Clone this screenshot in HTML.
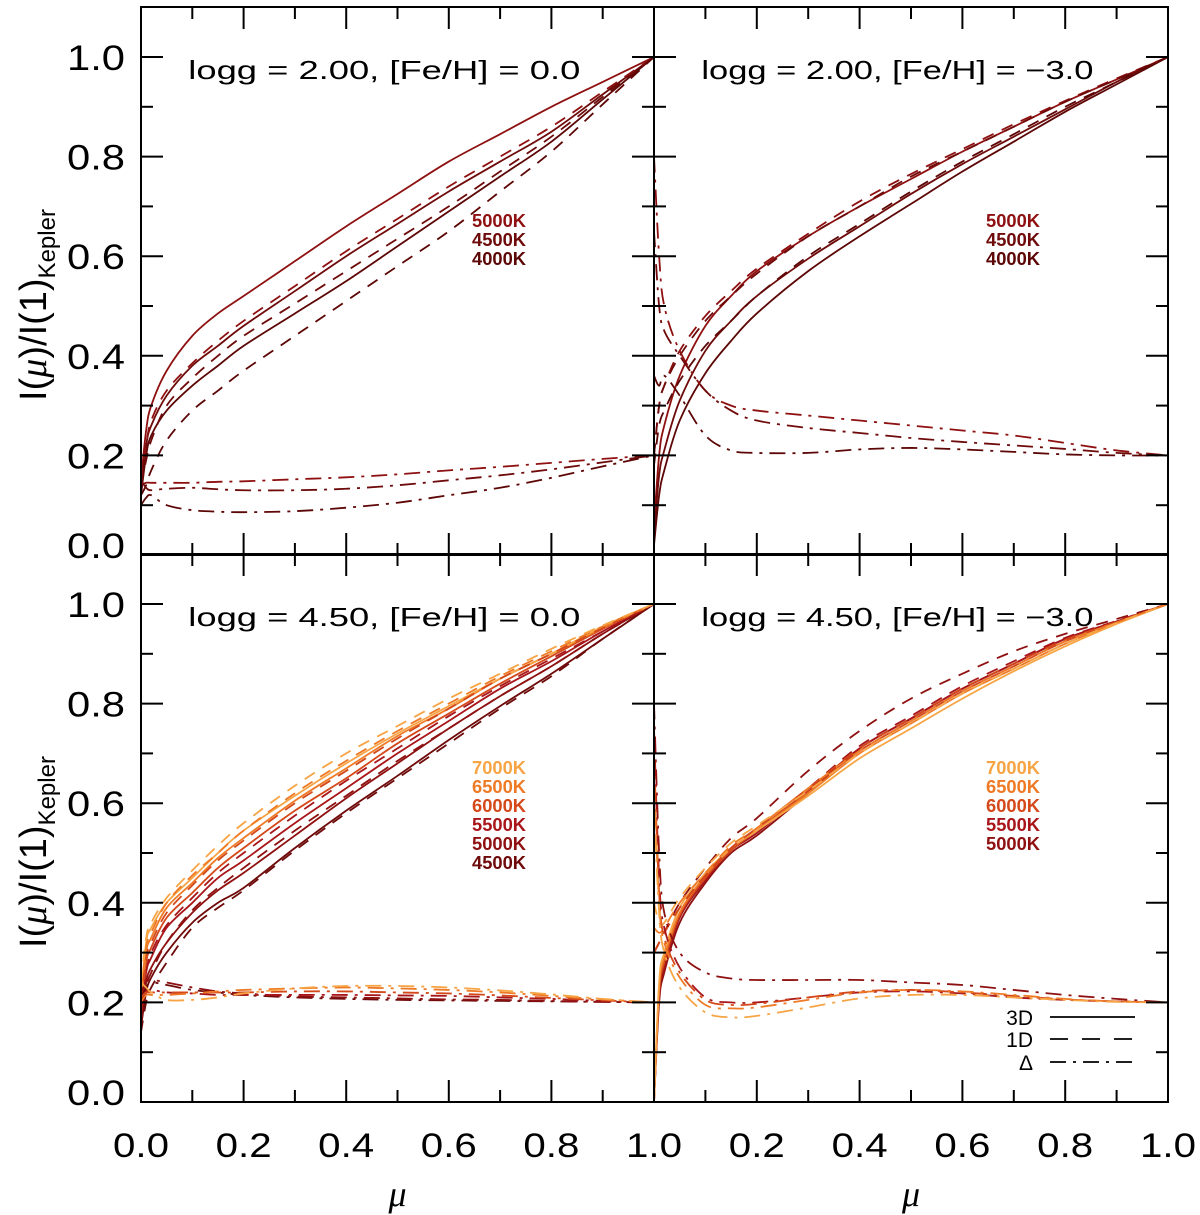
<!DOCTYPE html>
<html><head><meta charset="utf-8"><style>
html,body{margin:0;padding:0;background:#fff;}
svg{display:block;font-family:"Liberation Sans",sans-serif;}
</style></head><body>
<svg id="chart" width="1200" height="1215" viewBox="0 0 1200 1215" xmlns="http://www.w3.org/2000/svg">
<defs>
<clipPath id="c0"><rect x="141" y="7" width="513" height="548"/></clipPath>
<clipPath id="c1"><rect x="654" y="7" width="514" height="548"/></clipPath>
<clipPath id="c2"><rect x="141" y="555" width="513" height="547"/></clipPath>
<clipPath id="c3"><rect x="654" y="555" width="514" height="547"/></clipPath>
</defs>
<g id="curves"></g>
<g id="axes"></g>
<g id="labels"></g>
</svg>
<script>
const mu = [0,0.01,0.02,0.05,0.1,0.15,0.2,0.3,0.4,0.5,0.6,0.7,0.8,0.9,1.0];
const xTicks = ['0.0','0.2','0.4','0.6','0.8','1.0'];
const yTicks = ['0.0','0.2','0.4','0.6','0.8','1.0'];
const tempsTop = ['5000K','4500K','4000K'];
const tempsBL = ['7000K','6500K','6000K','5500K','5000K','4500K'];
const tempsBR = ['7000K','6500K','6000K','5500K','5000K'];
const titles = ['logg = 2.00, [Fe/H] = 0.0','logg = 2.00, [Fe/H] = \u22123.0','logg = 4.50, [Fe/H] = 0.0','logg = 4.50, [Fe/H] = \u22123.0'];
// panel 0 (top-left)
const tl3D = {'5000K':[0.15,0.25,0.30,0.37,0.44,0.485,0.52,0.59,0.66,0.725,0.79,0.845,0.90,0.95,1.0],
 '4500K':[0.13,0.22,0.26,0.32,0.38,0.42,0.46,0.53,0.60,0.665,0.73,0.79,0.85,0.925,1.0],
 '4000K':[0.12,0.20,0.24,0.29,0.34,0.38,0.42,0.485,0.55,0.62,0.69,0.76,0.83,0.915,1.0]};
const tl1D = {'5000K':[0.15,0.22,0.27,0.33,0.385,0.43,0.47,0.54,0.61,0.675,0.74,0.80,0.86,0.93,1.0],
 '4500K':[0.14,0.19,0.23,0.30,0.355,0.40,0.44,0.505,0.57,0.635,0.70,0.77,0.84,0.92,1.0],
 '4000K':[0.12,0.14,0.17,0.23,0.29,0.33,0.37,0.44,0.51,0.58,0.65,0.73,0.81,0.905,1.0]};
const tlD = {'5000K':[0.14,0.145,0.145,0.145,0.145,0.147,0.148,0.152,0.156,0.162,0.17,0.177,0.185,0.193,0.2],
 '4500K':[0.15,0.135,0.13,0.133,0.135,0.132,0.13,0.13,0.133,0.14,0.15,0.16,0.172,0.186,0.2],
 '4000K':[0.10,0.115,0.12,0.10,0.09,0.087,0.086,0.088,0.095,0.105,0.12,0.135,0.155,0.178,0.2]};
// panel 1 (top-right)
const tr3D = {'5000K':[0.06,0.20,0.26,0.36,0.46,0.52,0.57,0.64,0.70,0.755,0.81,0.86,0.91,0.955,1.0],
 '4500K':[0.04,0.16,0.21,0.31,0.41,0.47,0.52,0.595,0.66,0.725,0.785,0.84,0.895,0.95,1.0],
 '4000K':[0.02,0.12,0.17,0.27,0.365,0.43,0.485,0.57,0.64,0.705,0.77,0.83,0.89,0.945,1.0]};
const tr1D = {'5000K':[0.2,0.3,0.34,0.41,0.48,0.53,0.575,0.645,0.71,0.765,0.815,0.865,0.912,0.957,1.0],
 '4500K':[0.2,0.3,0.34,0.40,0.47,0.52,0.565,0.64,0.70,0.76,0.81,0.86,0.91,0.955,1.0],
 '4000K':[0.18,0.26,0.29,0.35,0.42,0.47,0.52,0.60,0.665,0.73,0.79,0.845,0.90,0.95,1.0]};
const trD = {'5000K':[0.80,0.60,0.50,0.41,0.33,0.30,0.29,0.28,0.27,0.26,0.25,0.24,0.225,0.21,0.2],
 '4500K':[0.65,0.50,0.45,0.40,0.33,0.29,0.27,0.255,0.245,0.235,0.227,0.22,0.213,0.205,0.2],
 '4000K':[0.36,0.34,0.36,0.32,0.24,0.21,0.205,0.205,0.212,0.215,0.212,0.207,0.202,0.2,0.2]};
// panel 2 (bottom-left)
const bl3D = {'4500K':[0.15,0.22,0.25,0.30,0.36,0.40,0.43,0.51,0.585,0.655,0.727,0.795,0.86,0.93,1.0],
 '5000K':[0.16,0.24,0.27,0.32,0.38,0.425,0.46,0.535,0.61,0.68,0.75,0.815,0.875,0.94,1.0],
 '5500K':[0.17,0.26,0.29,0.35,0.40,0.45,0.485,0.56,0.63,0.70,0.765,0.83,0.885,0.945,1.0],
 '6000K':[0.18,0.28,0.31,0.37,0.42,0.47,0.51,0.585,0.65,0.72,0.78,0.84,0.895,0.95,1.0],
 '6500K':[0.19,0.30,0.33,0.39,0.44,0.49,0.53,0.605,0.67,0.735,0.79,0.85,0.90,0.952,1.0],
 '7000K':[0.20,0.32,0.35,0.40,0.45,0.50,0.545,0.615,0.68,0.74,0.795,0.85,0.90,0.955,1.0]};
const bl1D = {'4500K':[0.14,0.20,0.23,0.28,0.35,0.39,0.425,0.505,0.58,0.65,0.72,0.79,0.855,0.93,1.0],
 '5000K':[0.16,0.23,0.26,0.32,0.385,0.43,0.47,0.545,0.615,0.685,0.75,0.815,0.875,0.94,1.0],
 '5500K':[0.18,0.26,0.30,0.355,0.41,0.46,0.50,0.575,0.645,0.71,0.775,0.835,0.89,0.945,1.0],
 '6000K':[0.20,0.29,0.32,0.38,0.435,0.485,0.525,0.60,0.665,0.73,0.79,0.85,0.90,0.952,1.0],
 '6500K':[0.22,0.31,0.34,0.40,0.455,0.50,0.545,0.62,0.685,0.745,0.80,0.855,0.905,0.955,1.0],
 '7000K':[0.24,0.33,0.36,0.41,0.465,0.515,0.56,0.635,0.70,0.755,0.81,0.86,0.91,0.957,1.0]};
const blD = {'4500K':[0.21,0.23,0.24,0.235,0.225,0.22,0.215,0.21,0.207,0.205,0.204,0.203,0.202,0.201,0.2],
 '5000K':[0.22,0.24,0.245,0.24,0.23,0.222,0.218,0.212,0.21,0.208,0.206,0.205,0.203,0.201,0.2],
 '5500K':[0.20,0.22,0.225,0.22,0.218,0.215,0.215,0.215,0.215,0.214,0.213,0.21,0.207,0.203,0.2],
 '6000K':[0.21,0.22,0.22,0.22,0.22,0.22,0.22,0.222,0.222,0.22,0.218,0.214,0.209,0.204,0.2],
 '6500K':[0.20,0.215,0.215,0.215,0.218,0.222,0.225,0.228,0.23,0.228,0.225,0.22,0.213,0.206,0.2],
 '7000K':[0.24,0.23,0.22,0.205,0.205,0.21,0.218,0.228,0.233,0.233,0.23,0.224,0.216,0.207,0.2]};
// panel 3 (bottom-right)
const br3D = {'5000K':[0.0,0.20,0.26,0.36,0.44,0.50,0.535,0.62,0.71,0.77,0.83,0.88,0.93,0.965,1.0],
 '5500K':[0.0,0.21,0.27,0.37,0.445,0.505,0.54,0.625,0.71,0.77,0.83,0.88,0.93,0.965,1.0],
 '6000K':[0.0,0.22,0.28,0.375,0.45,0.505,0.545,0.625,0.705,0.765,0.825,0.875,0.925,0.963,1.0],
 '6500K':[0.0,0.23,0.29,0.38,0.455,0.51,0.545,0.62,0.70,0.76,0.82,0.87,0.92,0.962,1.0],
 '7000K':[0.0,0.24,0.30,0.39,0.46,0.51,0.545,0.615,0.69,0.75,0.81,0.865,0.915,0.96,1.0]};
const br1D = {'5000K':[0.3,0.32,0.34,0.40,0.47,0.53,0.57,0.665,0.745,0.81,0.86,0.905,0.94,0.97,1.0],
 '5500K':[0.3,0.32,0.34,0.39,0.455,0.51,0.55,0.63,0.715,0.775,0.835,0.885,0.932,0.966,1.0],
 '6000K':[0.3,0.32,0.34,0.39,0.455,0.51,0.55,0.63,0.71,0.77,0.83,0.88,0.928,0.964,1.0],
 '6500K':[0.35,0.34,0.35,0.40,0.46,0.515,0.55,0.63,0.705,0.765,0.825,0.875,0.925,0.963,1.0],
 '7000K':[0.40,0.36,0.36,0.41,0.47,0.52,0.555,0.625,0.70,0.76,0.82,0.87,0.92,0.962,1.0]};
const brD = {'5000K':[0.80,0.50,0.38,0.30,0.26,0.248,0.245,0.245,0.245,0.24,0.235,0.225,0.215,0.207,0.2],
 '5500K':[0.75,0.45,0.35,0.27,0.21,0.20,0.20,0.21,0.22,0.222,0.218,0.21,0.205,0.202,0.2],
 '6000K':[0.70,0.42,0.33,0.26,0.205,0.195,0.197,0.21,0.222,0.225,0.22,0.213,0.206,0.202,0.2],
 '6500K':[0.65,0.40,0.32,0.25,0.195,0.188,0.19,0.205,0.22,0.225,0.222,0.215,0.207,0.202,0.2],
 '7000K':[0.60,0.38,0.30,0.23,0.18,0.17,0.173,0.19,0.208,0.215,0.215,0.21,0.205,0.201,0.2]};

const colors = {'4000K':'#5c0606','4500K':'#6e0a0a','5000K':'#8e1010','5500K':'#a8161a','6000K':'#d4481a','6500K':'#ee7a26','7000K':'#f7a444'};
const panels = [
 {x0:141,x1:654,yb:555,s3:tl3D,s1:tl1D,sd:tlD,temps:tempsTop,lx:499,ly:220},
 {x0:654,x1:1168,yb:555,s3:tr3D,s1:tr1D,sd:trD,temps:tempsTop,lx:1013,ly:220},
 {x0:141,x1:654,yb:1102,s3:bl3D,s1:bl1D,sd:blD,temps:tempsBL,lx:499,ly:767},
 {x0:654,x1:1168,yb:1102,s3:br3D,s1:br1D,sd:brD,temps:tempsBR,lx:1013,ly:767}];
const PX = 498;
const NS='http://www.w3.org/2000/svg';
function sx(p,v){return p.x0+(p.x1-p.x0)*v;}
function sy(p,v){return p.yb-PX*v;}
function mk(tag,attrs,parent){const e=document.createElementNS(NS,tag);for(const k in attrs)e.setAttribute(k,attrs[k]);parent.appendChild(e);return e;}
function pathD(pts){
 let d='M'+pts[0][0].toFixed(2)+','+pts[0][1].toFixed(2);
 for(let i=0;i<pts.length-1;i++){
  const p0=pts[Math.max(0,i-1)],p1=pts[i],p2=pts[i+1],p3=pts[Math.min(pts.length-1,i+2)];
  const c1=[p1[0]+(p2[0]-p0[0])/6,p1[1]+(p2[1]-p0[1])/6];
  const c2=[p2[0]-(p3[0]-p1[0])/6,p2[1]-(p3[1]-p1[1])/6];
  d+=' C'+c1[0].toFixed(2)+','+c1[1].toFixed(2)+' '+c2[0].toFixed(2)+','+c2[1].toFixed(2)+' '+p2[0].toFixed(2)+','+p2[1].toFixed(2);
 }
 return d;}
const gC=document.getElementById('curves'), gA=document.getElementById('axes'), gL=document.getElementById('labels');
const styles=[['s3','none','3d'],['s1','12 9','1d'],['sd','16 7 3 7','delta']];
panels.forEach((p,pi)=>{
 const g=mk('g',{'clip-path':'url(#c'+pi+')'},gC);
 
 
 styles.forEach(st=>{
  const set=p[st[0]];
  Object.keys(set).forEach(t=>{
   const pts=mu.map((m,i)=>[sx(p,m),sy(p,set[t][i])]);
   const a={d:pathD(pts),fill:'none',stroke:colors[t],'stroke-width':1.8};
   if(st[1]!=='none')a['stroke-dasharray']=st[1];
   const el=mk('path',a,g);
   
   
  });
 });
 const fr=mk('rect',{x:p.x0,y:p.yb-548,width:p.x1-p.x0,height:548,fill:'none',stroke:'#000','stroke-width':2},gA);
 
 
 for(let k=0;k<=10;k++){
  const v=k/10, L=(k%2===0)?22:12, X=sx(p,v), yt=p.yb-548;
  mk('line',{x1:X,y1:p.yb,x2:X,y2:p.yb-L,stroke:'#000','stroke-width':2},gA);
  mk('line',{x1:X,y1:yt,x2:X,y2:yt+L,stroke:'#000','stroke-width':2},gA);
  const Y=sy(p,v);
  mk('line',{x1:p.x0,y1:Y,x2:p.x0+L,y2:Y,stroke:'#000','stroke-width':2},gA);
  mk('line',{x1:p.x1,y1:Y,x2:p.x1-L,y2:Y,stroke:'#000','stroke-width':2},gA);
 }
 const tt=mk('text',{x:sx(p,0.1)-4,y:p.yb-476,'font-size':26,textLength:392,lengthAdjust:'spacingAndGlyphs',fill:'#000'},gL);
 tt.textContent=titles[pi];
 
 
 p.temps.forEach((t,i)=>{
  const e=mk('text',{x:p.lx-27,y:p.ly+i*19+7,'font-size':18,'font-weight':'bold',textLength:54,lengthAdjust:'spacingAndGlyphs',fill:colors[t]},gL);
  e.textContent=t;
  
  
 });
 if(pi%2===0){
  yTicks.forEach((s,i)=>{
   const v=parseFloat(s);let cy=sy(p,v); if(v===0)cy-=10;
   const e=mk('text',{x:125,y:cy+13,'font-size':35,'text-anchor':'end',textLength:58,lengthAdjust:'spacingAndGlyphs',fill:'#000'},gL);
   e.textContent=s;
   
   
  });
  const yl=mk('text',{transform:'translate(46,'+(p.yb-250)+') rotate(-90)','font-size':38,'text-anchor':'middle',fill:'#000'},gL);
  yl.innerHTML='I(<tspan font-family="Liberation Serif" font-style="italic">\u03bc</tspan>)/I(1)<tspan font-size="24" dy="9">Kepler</tspan>';
  
  
 }
 if(pi>=2){
  xTicks.forEach((s,i)=>{
   if(pi===3&&i===0)return;
   const e=mk('text',{x:sx(p,parseFloat(s)),y:1157,'font-size':34,'text-anchor':'middle',textLength:56,lengthAdjust:'spacingAndGlyphs',fill:'#000'},gL);
   e.textContent=s;
   
   
  });
  const xl=mk('text',{x:sx(p,0.5),y:1206,'font-size':36,'font-style':'italic','font-family':'Liberation Serif','text-anchor':'middle',fill:'#000'},gL);
  xl.textContent='\u03bc';
  
  
 }
});
const legItems=[['3D','none',1017],['1D','18 14',1039],['\u0394','16 7 3 7',1062]];
legItems.forEach(li=>{
 const t=mk('text',{x:1033,y:li[2]+8,'font-size':21,'text-anchor':'end',fill:'#000'},gL);
 t.textContent=li[0];
 
 
 const a={x1:1050,y1:li[2],x2:1135,y2:li[2],stroke:'#000','stroke-width':1.8};
 if(li[1]!=='none')a['stroke-dasharray']=li[1];
 const l=mk('line',a,gL);
 
 
});
</script>
</body></html>
